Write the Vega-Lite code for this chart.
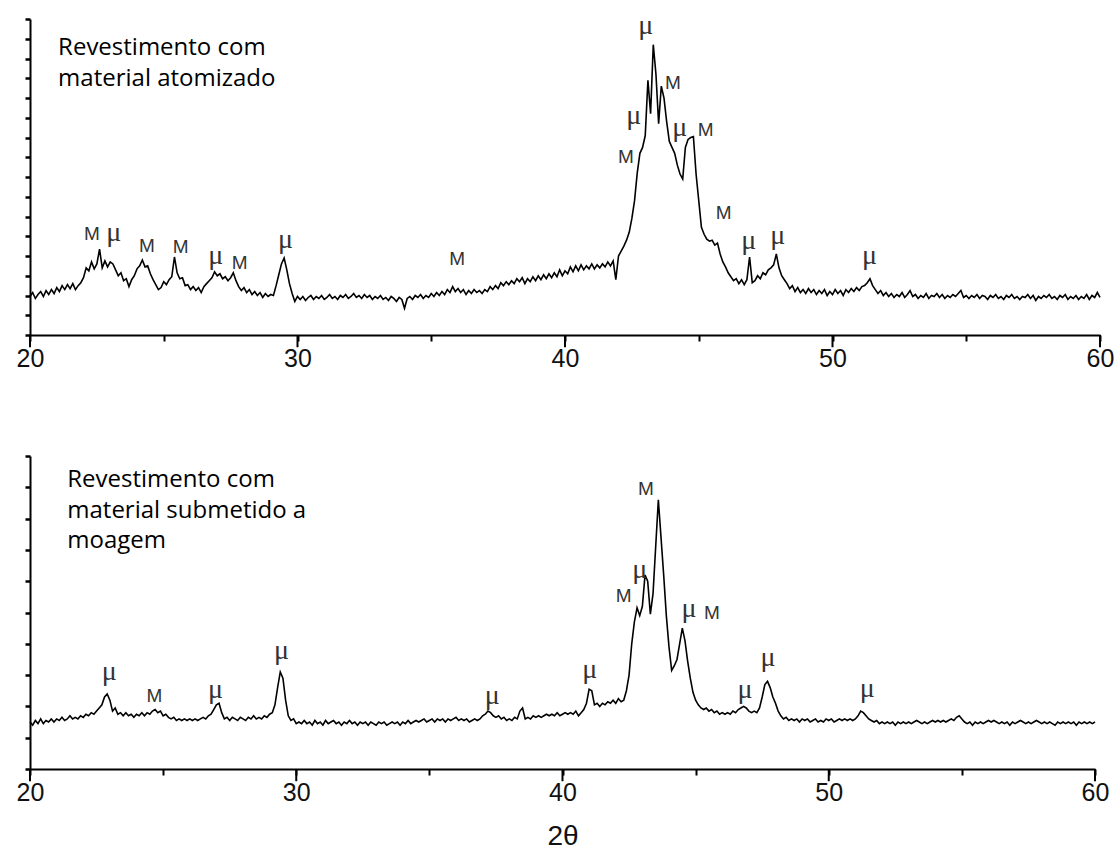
{
  "$schema": "https://vega.github.io/schema/vega-lite/v6.json",
  "background": "white",
  "padding": {"left": 16, "top": 11, "right": 10, "bottom": 5},
  "config": {"view": {"stroke": null}},
  "spacing": 121,
  "bounds": "flush",
  "datasets": {
    "xrd": [
      {"theta":20.0,"atomizado":1.95,"moagem":1.5},{"theta":20.1,"atomizado":2.15,"moagem":1.4},{"theta":20.2,"atomizado":1.85,"moagem":1.55},{"theta":20.3,"atomizado":2.05,"moagem":1.45},{"theta":20.4,"atomizado":2.2,"moagem":1.6},{"theta":20.5,"atomizado":1.95,"moagem":1.45},{"theta":20.6,"atomizado":2.25,"moagem":1.55},{"theta":20.7,"atomizado":2.05,"moagem":1.5},{"theta":20.8,"atomizado":2.3,"moagem":1.6},{"theta":20.9,"atomizado":2.1,"moagem":1.5},
      {"theta":21.0,"atomizado":2.4,"moagem":1.6},{"theta":21.1,"atomizado":2.2,"moagem":1.55},{"theta":21.2,"atomizado":2.5,"moagem":1.65},{"theta":21.3,"atomizado":2.3,"moagem":1.55},{"theta":21.4,"atomizado":2.55,"moagem":1.6},{"theta":21.5,"atomizado":2.35,"moagem":1.7},{"theta":21.6,"atomizado":2.6,"moagem":1.6},{"theta":21.7,"atomizado":2.3,"moagem":1.65},{"theta":21.8,"atomizado":2.5,"moagem":1.6},{"theta":21.9,"atomizado":2.65,"moagem":1.7},
      {"theta":22.0,"atomizado":2.9,"moagem":1.65},{"theta":22.1,"atomizado":3.4,"moagem":1.75},{"theta":22.2,"atomizado":3.25,"moagem":1.7},{"theta":22.3,"atomizado":3.7,"moagem":1.8},{"theta":22.4,"atomizado":3.35,"moagem":1.75},{"theta":22.5,"atomizado":3.6,"moagem":1.85},{"theta":22.6,"atomizado":4.35,"moagem":1.95},{"theta":22.7,"atomizado":3.4,"moagem":2.05},{"theta":22.8,"atomizado":3.75,"moagem":2.3},{"theta":22.9,"atomizado":3.45,"moagem":2.4},
      {"theta":23.0,"atomizado":3.7,"moagem":2.2},{"theta":23.1,"atomizado":3.6,"moagem":1.85},{"theta":23.2,"atomizado":3.3,"moagem":1.95},{"theta":23.3,"atomizado":3.0,"moagem":1.75},{"theta":23.4,"atomizado":3.15,"moagem":1.8},{"theta":23.5,"atomizado":2.75,"moagem":1.7},{"theta":23.6,"atomizado":2.85,"moagem":1.8},{"theta":23.7,"atomizado":2.45,"moagem":1.7},{"theta":23.8,"atomizado":2.8,"moagem":1.75},{"theta":23.9,"atomizado":3.0,"moagem":1.65},
      {"theta":24.0,"atomizado":3.35,"moagem":1.75},{"theta":24.1,"atomizado":3.5,"moagem":1.7},{"theta":24.2,"atomizado":3.8,"moagem":1.8},{"theta":24.3,"atomizado":3.45,"moagem":1.7},{"theta":24.4,"atomizado":3.5,"moagem":1.8},{"theta":24.5,"atomizado":3.1,"moagem":1.75},{"theta":24.6,"atomizado":2.8,"moagem":1.85},{"theta":24.7,"atomizado":2.55,"moagem":1.9},{"theta":24.8,"atomizado":2.3,"moagem":1.8},{"theta":24.9,"atomizado":2.4,"moagem":1.85},
      {"theta":25.0,"atomizado":2.7,"moagem":1.7},{"theta":25.1,"atomizado":2.55,"moagem":1.75},{"theta":25.2,"atomizado":2.8,"moagem":1.65},{"theta":25.3,"atomizado":2.95,"moagem":1.6},{"theta":25.4,"atomizado":3.95,"moagem":1.65},{"theta":25.5,"atomizado":3.15,"moagem":1.55},{"theta":25.6,"atomizado":2.85,"moagem":1.6},{"theta":25.7,"atomizado":2.9,"moagem":1.55},{"theta":25.8,"atomizado":2.5,"moagem":1.6},{"theta":25.9,"atomizado":2.55,"moagem":1.55},
      {"theta":26.0,"atomizado":2.3,"moagem":1.6},{"theta":26.1,"atomizado":2.45,"moagem":1.55},{"theta":26.2,"atomizado":2.25,"moagem":1.6},{"theta":26.3,"atomizado":2.4,"moagem":1.55},{"theta":26.4,"atomizado":2.15,"moagem":1.6},{"theta":26.5,"atomizado":2.45,"moagem":1.65},{"theta":26.6,"atomizado":2.6,"moagem":1.6},{"theta":26.7,"atomizado":2.75,"moagem":1.7},{"theta":26.8,"atomizado":2.9,"moagem":1.75},{"theta":26.9,"atomizado":3.2,"moagem":1.9},
      {"theta":27.0,"atomizado":3.0,"moagem":2.05},{"theta":27.1,"atomizado":3.1,"moagem":2.1},{"theta":27.2,"atomizado":2.85,"moagem":1.8},{"theta":27.3,"atomizado":2.95,"moagem":1.6},{"theta":27.4,"atomizado":2.75,"moagem":1.65},{"theta":27.5,"atomizado":2.9,"moagem":1.55},{"theta":27.6,"atomizado":3.15,"moagem":1.65},{"theta":27.7,"atomizado":2.75,"moagem":1.6},{"theta":27.8,"atomizado":2.45,"moagem":1.55},{"theta":27.9,"atomizado":2.25,"moagem":1.65},
      {"theta":28.0,"atomizado":2.4,"moagem":1.6},{"theta":28.1,"atomizado":2.15,"moagem":1.55},{"theta":28.2,"atomizado":2.3,"moagem":1.65},{"theta":28.3,"atomizado":2.05,"moagem":1.6},{"theta":28.4,"atomizado":2.2,"moagem":1.7},{"theta":28.5,"atomizado":2.0,"moagem":1.6},{"theta":28.6,"atomizado":2.15,"moagem":1.65},{"theta":28.7,"atomizado":1.9,"moagem":1.6},{"theta":28.8,"atomizado":2.1,"moagem":1.7},{"theta":28.9,"atomizado":1.95,"moagem":1.65},
      {"theta":29.0,"atomizado":2.05,"moagem":1.75},{"theta":29.1,"atomizado":2.0,"moagem":1.8},{"theta":29.2,"atomizado":2.5,"moagem":2.05},{"theta":29.3,"atomizado":3.05,"moagem":2.6},{"theta":29.4,"atomizado":3.6,"moagem":3.1},{"theta":29.5,"atomizado":3.9,"moagem":2.9},{"theta":29.6,"atomizado":3.3,"moagem":2.2},{"theta":29.7,"atomizado":2.6,"moagem":1.7},{"theta":29.8,"atomizado":2.1,"moagem":1.55},{"theta":29.9,"atomizado":1.7,"moagem":1.6},
      {"theta":30.0,"atomizado":1.95,"moagem":1.45},{"theta":30.1,"atomizado":1.8,"moagem":1.5},{"theta":30.2,"atomizado":1.95,"moagem":1.45},{"theta":30.3,"atomizado":1.75,"moagem":1.55},{"theta":30.4,"atomizado":1.9,"moagem":1.45},{"theta":30.5,"atomizado":2.0,"moagem":1.5},{"theta":30.6,"atomizado":1.8,"moagem":1.4},{"theta":30.7,"atomizado":1.95,"moagem":1.55},{"theta":30.8,"atomizado":1.85,"moagem":1.45},{"theta":30.9,"atomizado":2.0,"moagem":1.5},
      {"theta":31.0,"atomizado":1.8,"moagem":1.4},{"theta":31.1,"atomizado":1.9,"moagem":1.55},{"theta":31.2,"atomizado":2.05,"moagem":1.45},{"theta":31.3,"atomizado":1.85,"moagem":1.5},{"theta":31.4,"atomizado":1.95,"moagem":1.55},{"theta":31.5,"atomizado":1.8,"moagem":1.45},{"theta":31.6,"atomizado":2.0,"moagem":1.5},{"theta":31.7,"atomizado":1.9,"moagem":1.4},{"theta":31.8,"atomizado":2.05,"moagem":1.5},{"theta":31.9,"atomizado":1.85,"moagem":1.45},
      {"theta":32.0,"atomizado":1.95,"moagem":1.55},{"theta":32.1,"atomizado":2.1,"moagem":1.45},{"theta":32.2,"atomizado":1.9,"moagem":1.5},{"theta":32.3,"atomizado":2.0,"moagem":1.4},{"theta":32.4,"atomizado":1.85,"moagem":1.5},{"theta":32.5,"atomizado":2.05,"moagem":1.45},{"theta":32.6,"atomizado":1.9,"moagem":1.5},{"theta":32.7,"atomizado":2.0,"moagem":1.4},{"theta":32.8,"atomizado":1.8,"moagem":1.5},{"theta":32.9,"atomizado":1.95,"moagem":1.45},
      {"theta":33.0,"atomizado":1.85,"moagem":1.4},{"theta":33.1,"atomizado":2.0,"moagem":1.5},{"theta":33.2,"atomizado":1.8,"moagem":1.45},{"theta":33.3,"atomizado":1.9,"moagem":1.5},{"theta":33.4,"atomizado":1.75,"moagem":1.4},{"theta":33.5,"atomizado":1.95,"moagem":1.45},{"theta":33.6,"atomizado":1.85,"moagem":1.5},{"theta":33.7,"atomizado":1.7,"moagem":1.45},{"theta":33.8,"atomizado":1.9,"moagem":1.5},{"theta":33.9,"atomizado":1.8,"moagem":1.4},
      {"theta":34.0,"atomizado":1.35,"moagem":1.5},{"theta":34.1,"atomizado":1.85,"moagem":1.45},{"theta":34.2,"atomizado":1.95,"moagem":1.55},{"theta":34.3,"atomizado":1.8,"moagem":1.45},{"theta":34.4,"atomizado":2.0,"moagem":1.5},{"theta":34.5,"atomizado":1.9,"moagem":1.55},{"theta":34.6,"atomizado":2.05,"moagem":1.5},{"theta":34.7,"atomizado":1.85,"moagem":1.55},{"theta":34.8,"atomizado":2.0,"moagem":1.6},{"theta":34.9,"atomizado":1.9,"moagem":1.5},
      {"theta":35.0,"atomizado":2.1,"moagem":1.55},{"theta":35.1,"atomizado":1.95,"moagem":1.6},{"theta":35.2,"atomizado":2.15,"moagem":1.5},{"theta":35.3,"atomizado":2.0,"moagem":1.6},{"theta":35.4,"atomizado":2.2,"moagem":1.55},{"theta":35.5,"atomizado":2.05,"moagem":1.6},{"theta":35.6,"atomizado":2.3,"moagem":1.5},{"theta":35.7,"atomizado":2.15,"moagem":1.6},{"theta":35.8,"atomizado":2.45,"moagem":1.55},{"theta":35.9,"atomizado":2.2,"moagem":1.6},
      {"theta":36.0,"atomizado":2.35,"moagem":1.65},{"theta":36.1,"atomizado":2.15,"moagem":1.55},{"theta":36.2,"atomizado":2.3,"moagem":1.6},{"theta":36.3,"atomizado":2.05,"moagem":1.55},{"theta":36.4,"atomizado":2.25,"moagem":1.6},{"theta":36.5,"atomizado":2.1,"moagem":1.5},{"theta":36.6,"atomizado":2.3,"moagem":1.55},{"theta":36.7,"atomizado":2.15,"moagem":1.6},{"theta":36.8,"atomizado":2.25,"moagem":1.55},{"theta":36.9,"atomizado":2.1,"moagem":1.6},
      {"theta":37.0,"atomizado":2.3,"moagem":1.7},{"theta":37.1,"atomizado":2.2,"moagem":1.75},{"theta":37.2,"atomizado":2.45,"moagem":1.85},{"theta":37.3,"atomizado":2.3,"moagem":1.8},{"theta":37.4,"atomizado":2.5,"moagem":1.7},{"theta":37.5,"atomizado":2.35,"moagem":1.65},{"theta":37.6,"atomizado":2.65,"moagem":1.7},{"theta":37.7,"atomizado":2.5,"moagem":1.6},{"theta":37.8,"atomizado":2.7,"moagem":1.65},{"theta":37.9,"atomizado":2.55,"moagem":1.55},
      {"theta":38.0,"atomizado":2.75,"moagem":1.6},{"theta":38.1,"atomizado":2.6,"moagem":1.55},{"theta":38.2,"atomizado":2.85,"moagem":1.65},{"theta":38.3,"atomizado":2.7,"moagem":1.6},{"theta":38.4,"atomizado":2.9,"moagem":1.85},{"theta":38.5,"atomizado":2.6,"moagem":1.95},{"theta":38.6,"atomizado":2.85,"moagem":1.6},{"theta":38.7,"atomizado":2.7,"moagem":1.65},{"theta":38.8,"atomizado":2.95,"moagem":1.6},{"theta":38.9,"atomizado":2.75,"moagem":1.7},
      {"theta":39.0,"atomizado":3.0,"moagem":1.65},{"theta":39.1,"atomizado":2.8,"moagem":1.7},{"theta":39.2,"atomizado":3.05,"moagem":1.65},{"theta":39.3,"atomizado":2.85,"moagem":1.7},{"theta":39.4,"atomizado":3.1,"moagem":1.75},{"theta":39.5,"atomizado":2.9,"moagem":1.7},{"theta":39.6,"atomizado":3.15,"moagem":1.75},{"theta":39.7,"atomizado":2.95,"moagem":1.7},{"theta":39.8,"atomizado":3.3,"moagem":1.8},{"theta":39.9,"atomizado":3.0,"moagem":1.7},
      {"theta":40.0,"atomizado":3.25,"moagem":1.75},{"theta":40.1,"atomizado":3.1,"moagem":1.8},{"theta":40.2,"atomizado":3.45,"moagem":1.75},{"theta":40.3,"atomizado":3.2,"moagem":1.8},{"theta":40.4,"atomizado":3.5,"moagem":1.75},{"theta":40.5,"atomizado":3.25,"moagem":1.85},{"theta":40.6,"atomizado":3.55,"moagem":1.7},{"theta":40.7,"atomizado":3.3,"moagem":1.8},{"theta":40.8,"atomizado":3.5,"moagem":1.9},{"theta":40.9,"atomizado":3.35,"moagem":2.1},
      {"theta":41.0,"atomizado":3.6,"moagem":2.55},{"theta":41.1,"atomizado":3.35,"moagem":2.5},{"theta":41.2,"atomizado":3.55,"moagem":2.05},{"theta":41.3,"atomizado":3.4,"moagem":2.1},{"theta":41.4,"atomizado":3.6,"moagem":2.0},{"theta":41.5,"atomizado":3.45,"moagem":2.1},{"theta":41.6,"atomizado":3.7,"moagem":2.05},{"theta":41.7,"atomizado":3.5,"moagem":2.15},{"theta":41.8,"atomizado":3.75,"moagem":2.1},{"theta":41.9,"atomizado":2.8,"moagem":2.2},
      {"theta":42.0,"atomizado":4.0,"moagem":2.1},{"theta":42.1,"atomizado":4.25,"moagem":2.25},{"theta":42.2,"atomizado":4.5,"moagem":2.15},{"theta":42.3,"atomizado":4.8,"moagem":2.2},{"theta":42.4,"atomizado":5.2,"moagem":2.5},{"theta":42.5,"atomizado":5.9,"moagem":3.0},{"theta":42.6,"atomizado":6.8,"moagem":4.0},{"theta":42.7,"atomizado":8.2,"moagem":4.7},{"theta":42.8,"atomizado":9.2,"moagem":5.15},{"theta":42.9,"atomizado":9.5,"moagem":4.9},
      {"theta":43.0,"atomizado":10.1,"moagem":5.2},{"theta":43.1,"atomizado":12.9,"moagem":6.2},{"theta":43.2,"atomizado":11.2,"moagem":6.0},{"theta":43.3,"atomizado":14.7,"moagem":4.95},{"theta":43.4,"atomizado":13.2,"moagem":5.6},{"theta":43.5,"atomizado":10.7,"moagem":7.1},{"theta":43.6,"atomizado":12.6,"moagem":8.6},{"theta":43.7,"atomizado":12.0,"moagem":7.4},{"theta":43.8,"atomizado":10.8,"moagem":6.2},{"theta":43.9,"atomizado":9.8,"moagem":4.9},
      {"theta":44.0,"atomizado":9.5,"moagem":3.9},{"theta":44.1,"atomizado":9.2,"moagem":3.15},{"theta":44.2,"atomizado":8.6,"moagem":3.3},{"theta":44.3,"atomizado":8.15,"moagem":3.5},{"theta":44.4,"atomizado":7.9,"moagem":4.0},{"theta":44.5,"atomizado":9.5,"moagem":4.5},{"theta":44.6,"atomizado":9.9,"moagem":4.1},{"theta":44.7,"atomizado":10.0,"moagem":3.45},{"theta":44.8,"atomizado":10.05,"moagem":2.9},{"theta":44.9,"atomizado":8.15,"moagem":2.45},
      {"theta":45.0,"atomizado":6.8,"moagem":2.2},{"theta":45.1,"atomizado":5.45,"moagem":2.05},{"theta":45.2,"atomizado":5.1,"moagem":1.95},{"theta":45.3,"atomizado":4.85,"moagem":1.9},{"theta":45.4,"atomizado":4.75,"moagem":1.95},{"theta":45.5,"atomizado":4.8,"moagem":1.85},{"theta":45.6,"atomizado":4.55,"moagem":1.9},{"theta":45.7,"atomizado":4.65,"moagem":1.8},{"theta":45.8,"atomizado":4.1,"moagem":1.85},{"theta":45.9,"atomizado":3.7,"moagem":1.75},
      {"theta":46.0,"atomizado":3.45,"moagem":1.8},{"theta":46.1,"atomizado":3.15,"moagem":1.75},{"theta":46.2,"atomizado":2.95,"moagem":1.8},{"theta":46.3,"atomizado":2.75,"moagem":1.75},{"theta":46.4,"atomizado":2.85,"moagem":1.85},{"theta":46.5,"atomizado":2.6,"moagem":1.8},{"theta":46.6,"atomizado":2.8,"moagem":1.9},{"theta":46.7,"atomizado":2.55,"moagem":1.95},{"theta":46.8,"atomizado":2.8,"moagem":2.0},{"theta":46.9,"atomizado":3.95,"moagem":1.95},
      {"theta":47.0,"atomizado":2.65,"moagem":1.85},{"theta":47.1,"atomizado":2.75,"moagem":1.8},{"theta":47.2,"atomizado":3.0,"moagem":1.85},{"theta":47.3,"atomizado":2.85,"moagem":1.8},{"theta":47.4,"atomizado":3.15,"moagem":1.95},{"theta":47.5,"atomizado":3.05,"moagem":2.3},{"theta":47.6,"atomizado":3.3,"moagem":2.7},{"theta":47.7,"atomizado":3.4,"moagem":2.8},{"theta":47.8,"atomizado":3.55,"moagem":2.6},{"theta":47.9,"atomizado":4.1,"moagem":2.3},
      {"theta":48.0,"atomizado":3.4,"moagem":2.1},{"theta":48.1,"atomizado":3.0,"moagem":1.85},{"theta":48.2,"atomizado":2.8,"moagem":1.7},{"theta":48.3,"atomizado":2.6,"moagem":1.6},{"theta":48.4,"atomizado":2.35,"moagem":1.65},{"theta":48.5,"atomizado":2.5,"moagem":1.55},{"theta":48.6,"atomizado":2.2,"moagem":1.6},{"theta":48.7,"atomizado":2.4,"moagem":1.55},{"theta":48.8,"atomizado":2.15,"moagem":1.6},{"theta":48.9,"atomizado":2.3,"moagem":1.5},
      {"theta":49.0,"atomizado":2.1,"moagem":1.6},{"theta":49.1,"atomizado":2.35,"moagem":1.55},{"theta":49.2,"atomizado":2.15,"moagem":1.6},{"theta":49.3,"atomizado":2.3,"moagem":1.5},{"theta":49.4,"atomizado":2.05,"moagem":1.55},{"theta":49.5,"atomizado":2.25,"moagem":1.6},{"theta":49.6,"atomizado":2.1,"moagem":1.5},{"theta":49.7,"atomizado":2.3,"moagem":1.55},{"theta":49.8,"atomizado":2.0,"moagem":1.5},{"theta":49.9,"atomizado":2.2,"moagem":1.6},
      {"theta":50.0,"atomizado":2.05,"moagem":1.55},{"theta":50.1,"atomizado":2.3,"moagem":1.6},{"theta":50.2,"atomizado":2.1,"moagem":1.5},{"theta":50.3,"atomizado":2.25,"moagem":1.55},{"theta":50.4,"atomizado":2.0,"moagem":1.6},{"theta":50.5,"atomizado":2.3,"moagem":1.55},{"theta":50.6,"atomizado":2.15,"moagem":1.6},{"theta":50.7,"atomizado":2.35,"moagem":1.55},{"theta":50.8,"atomizado":2.2,"moagem":1.6},{"theta":50.9,"atomizado":2.4,"moagem":1.55},
      {"theta":51.0,"atomizado":2.25,"moagem":1.6},{"theta":51.1,"atomizado":2.45,"moagem":1.7},{"theta":51.2,"atomizado":2.5,"moagem":1.85},{"theta":51.3,"atomizado":2.65,"moagem":1.8},{"theta":51.4,"atomizado":2.85,"moagem":1.7},{"theta":51.5,"atomizado":2.5,"moagem":1.6},{"theta":51.6,"atomizado":2.3,"moagem":1.55},{"theta":51.7,"atomizado":2.1,"moagem":1.5},{"theta":51.8,"atomizado":2.25,"moagem":1.55},{"theta":51.9,"atomizado":2.0,"moagem":1.45},
      {"theta":52.0,"atomizado":2.15,"moagem":1.5},{"theta":52.1,"atomizado":1.95,"moagem":1.45},{"theta":52.2,"atomizado":2.1,"moagem":1.5},{"theta":52.3,"atomizado":1.9,"moagem":1.45},{"theta":52.4,"atomizado":2.05,"moagem":1.5},{"theta":52.5,"atomizado":1.95,"moagem":1.4},{"theta":52.6,"atomizado":2.15,"moagem":1.5},{"theta":52.7,"atomizado":1.9,"moagem":1.45},{"theta":52.8,"atomizado":2.05,"moagem":1.5},{"theta":52.9,"atomizado":2.25,"moagem":1.45},
      {"theta":53.0,"atomizado":1.95,"moagem":1.5},{"theta":53.1,"atomizado":2.05,"moagem":1.45},{"theta":53.2,"atomizado":1.85,"moagem":1.5},{"theta":53.3,"atomizado":2.0,"moagem":1.55},{"theta":53.4,"atomizado":1.9,"moagem":1.5},{"theta":53.5,"atomizado":2.1,"moagem":1.45},{"theta":53.6,"atomizado":1.85,"moagem":1.5},{"theta":53.7,"atomizado":2.0,"moagem":1.45},{"theta":53.8,"atomizado":1.95,"moagem":1.5},{"theta":53.9,"atomizado":2.1,"moagem":1.55},
      {"theta":54.0,"atomizado":1.9,"moagem":1.5},{"theta":54.1,"atomizado":2.05,"moagem":1.55},{"theta":54.2,"atomizado":1.85,"moagem":1.5},{"theta":54.3,"atomizado":2.0,"moagem":1.55},{"theta":54.4,"atomizado":1.9,"moagem":1.5},{"theta":54.5,"atomizado":2.05,"moagem":1.55},{"theta":54.6,"atomizado":1.95,"moagem":1.6},{"theta":54.7,"atomizado":2.1,"moagem":1.55},{"theta":54.8,"atomizado":2.25,"moagem":1.65},{"theta":54.9,"atomizado":1.9,"moagem":1.7},
      {"theta":55.0,"atomizado":2.0,"moagem":1.6},{"theta":55.1,"atomizado":1.85,"moagem":1.5},{"theta":55.2,"atomizado":2.0,"moagem":1.45},{"theta":55.3,"atomizado":1.9,"moagem":1.5},{"theta":55.4,"atomizado":2.05,"moagem":1.4},{"theta":55.5,"atomizado":1.85,"moagem":1.5},{"theta":55.6,"atomizado":2.0,"moagem":1.45},{"theta":55.7,"atomizado":1.95,"moagem":1.5},{"theta":55.8,"atomizado":1.8,"moagem":1.45},{"theta":55.9,"atomizado":2.0,"moagem":1.5},
      {"theta":56.0,"atomizado":1.9,"moagem":1.55},{"theta":56.1,"atomizado":2.05,"moagem":1.5},{"theta":56.2,"atomizado":1.85,"moagem":1.55},{"theta":56.3,"atomizado":1.95,"moagem":1.5},{"theta":56.4,"atomizado":1.8,"moagem":1.45},{"theta":56.5,"atomizado":2.0,"moagem":1.5},{"theta":56.6,"atomizado":1.9,"moagem":1.45},{"theta":56.7,"atomizado":2.05,"moagem":1.5},{"theta":56.8,"atomizado":1.85,"moagem":1.4},{"theta":56.9,"atomizado":1.95,"moagem":1.5},
      {"theta":57.0,"atomizado":1.8,"moagem":1.45},{"theta":57.1,"atomizado":1.95,"moagem":1.5},{"theta":57.2,"atomizado":1.9,"moagem":1.55},{"theta":57.3,"atomizado":2.05,"moagem":1.5},{"theta":57.4,"atomizado":1.85,"moagem":1.45},{"theta":57.5,"atomizado":2.0,"moagem":1.5},{"theta":57.6,"atomizado":1.75,"moagem":1.45},{"theta":57.7,"atomizado":1.95,"moagem":1.5},{"theta":57.8,"atomizado":1.85,"moagem":1.55},{"theta":57.9,"atomizado":2.0,"moagem":1.5},
      {"theta":58.0,"atomizado":1.9,"moagem":1.45},{"theta":58.1,"atomizado":2.05,"moagem":1.5},{"theta":58.2,"atomizado":1.85,"moagem":1.45},{"theta":58.3,"atomizado":1.95,"moagem":1.5},{"theta":58.4,"atomizado":1.8,"moagem":1.45},{"theta":58.5,"atomizado":2.0,"moagem":1.4},{"theta":58.6,"atomizado":1.9,"moagem":1.5},{"theta":58.7,"atomizado":2.05,"moagem":1.45},{"theta":58.8,"atomizado":1.8,"moagem":1.5},{"theta":58.9,"atomizado":1.95,"moagem":1.45},
      {"theta":59.0,"atomizado":1.85,"moagem":1.5},{"theta":59.1,"atomizado":2.0,"moagem":1.45},{"theta":59.2,"atomizado":1.8,"moagem":1.5},{"theta":59.3,"atomizado":1.95,"moagem":1.4},{"theta":59.4,"atomizado":1.85,"moagem":1.5},{"theta":59.5,"atomizado":2.05,"moagem":1.45},{"theta":59.6,"atomizado":1.8,"moagem":1.5},{"theta":59.7,"atomizado":2.0,"moagem":1.45},{"theta":59.8,"atomizado":1.9,"moagem":1.5},{"theta":59.9,"atomizado":2.15,"moagem":1.45},
      {"theta":60.0,"atomizado":1.9,"moagem":1.5}
    ],
    "picos_atomizado": [
      {"x":22.31,"y":5.11,"fase":"M"},{"x":23.13,"y":5.16,"fase":"μ"},{"x":24.37,"y":4.51,"fase":"M"},{"x":25.63,"y":4.46,"fase":"M"},{"x":26.94,"y":4.0,"fase":"μ"},{"x":27.84,"y":3.65,"fase":"M"},{"x":29.55,"y":4.81,"fase":"μ"},{"x":35.97,"y":3.85,"fase":"M"},{"x":43.02,"y":15.65,"fase":"μ"},{"x":44.03,"y":12.76,"fase":"M"},{"x":42.57,"y":11.09,"fase":"μ"},{"x":42.28,"y":9.01,"fase":"M"},{"x":44.29,"y":10.48,"fase":"μ"},{"x":45.26,"y":10.38,"fase":"M"},{"x":45.93,"y":6.18,"fase":"M"},{"x":46.87,"y":4.76,"fase":"μ"},{"x":47.95,"y":5.01,"fase":"μ"},{"x":51.38,"y":4.0,"fase":"μ"}
    ],
    "picos_moagem": [
      {"x":22.98,"y":3.1,"fase":"μ"},{"x":24.67,"y":2.33,"fase":"M"},{"x":26.97,"y":2.52,"fase":"μ"},{"x":29.45,"y":3.77,"fase":"μ"},{"x":37.36,"y":2.33,"fase":"μ"},{"x":41.02,"y":3.16,"fase":"μ"},{"x":42.3,"y":5.53,"fase":"M"},{"x":42.9,"y":6.36,"fase":"μ"},{"x":43.13,"y":8.95,"fase":"M"},{"x":44.75,"y":5.11,"fase":"μ"},{"x":45.61,"y":4.98,"fase":"M"},{"x":46.85,"y":2.52,"fase":"μ"},{"x":47.72,"y":3.55,"fase":"μ"},{"x":51.45,"y":2.56,"fase":"μ"}
    ],
    "texto_atomizado": [
      {"x":21.05,"y":14.52,"linha":"Revestimento com"},{"x":21.05,"y":12.95,"linha":"material atomizado"}
    ],
    "texto_moagem": [
      {"x":21.4,"y":9.22,"linha":"Revestimento com"},{"x":21.4,"y":8.23,"linha":"material submetido a"},{"x":21.4,"y":7.27,"linha":"moagem"}
    ],
    "marcas_principais": [
      {"marca":20},{"marca":30},{"marca":40},{"marca":50},{"marca":60}
    ]
  },
  "vconcat": [
    {
      "width": 1070,
      "height": 316,
      "layer": [
        {
          "data": {"name": "xrd"},
          "mark": {"type": "line", "color": "black", "strokeWidth": 1.6, "strokeJoin": "miter"},
          "encoding": {
            "x": {"field": "theta", "type": "quantitative", "title": null,
              "scale": {"domain": [20, 60], "nice": false, "zero": false},
              "axis": {"values": [20,25,30,35,40,45,50,55,60], "grid": false,
                "labelExpr": "datum.value % 10 === 0 ? datum.label : ''",
                "tickSize": 6,
                "tickWidth": 2, "tickColor": "black", "domainWidth": 2, "domainColor": "black",
                "labelFont": "Liberation Sans", "labelFontSize": 25, "labelColor": "#111",
                "labelPadding": 5, "labelFlush": false, "labelOverlap": false}},
            "y": {"field": "atomizado", "type": "quantitative", "title": null,
              "scale": {"domain": [0, 16], "nice": false},
              "axis": {"tickCount": 16, "labels": false, "labelOverlap": false, "grid": false,
                "tickSize": 5, "tickWidth": 2.5, "tickColor": "black", "domainWidth": 2, "domainColor": "black"}}
          }
        },
        {
          "data": {"name": "marcas_principais"},
          "mark": {"type": "rule", "color": "black", "strokeWidth": 2},
          "encoding": {
            "x": {"field": "marca", "type": "quantitative", "title": null},
            "y": {"datum": 0},
            "y2": {"datum": -0.62}
          }
        },
        {
          "data": {"name": "picos_atomizado"},
          "transform": [{"filter": "datum.fase === 'M'"}],
          "mark": {"type": "text", "font": "Liberation Sans", "fontSize": 19, "color": "#333", "baseline": "middle", "align": "center"},
          "encoding": {
            "x": {"field": "x", "type": "quantitative", "title": null},
            "y": {"field": "y", "type": "quantitative", "title": null},
            "text": {"field": "fase"}
          }
        },
        {
          "data": {"name": "picos_atomizado"},
          "transform": [{"filter": "datum.fase !== 'M'"}],
          "mark": {"type": "text", "font": "Liberation Serif", "fontSize": 28, "color": "#333", "baseline": "middle", "align": "center"},
          "encoding": {
            "x": {"field": "x", "type": "quantitative", "title": null},
            "y": {"field": "y", "type": "quantitative", "title": null},
            "text": {"field": "fase"}
          }
        },
        {
          "data": {"name": "texto_atomizado"},
          "mark": {"type": "text", "font": "Open Sans", "fontSize": 24, "color": "black", "baseline": "middle", "align": "left"},
          "encoding": {
            "x": {"field": "x", "type": "quantitative", "title": null},
            "y": {"field": "y", "type": "quantitative", "title": null},
            "text": {"field": "linha"}
          }
        }
      ]
    },
    {
      "width": 1065,
      "height": 313,
      "layer": [
        {
          "data": {"name": "xrd"},
          "mark": {"type": "line", "color": "black", "strokeWidth": 1.6, "strokeJoin": "miter"},
          "encoding": {
            "x": {"field": "theta", "type": "quantitative", "title": "2θ",
              "scale": {"domain": [20, 60], "nice": false, "zero": false},
              "axis": {"values": [20,25,30,35,40,45,50,55,60], "grid": false,
                "labelExpr": "datum.value % 10 === 0 ? datum.label : ''",
                "tickSize": 6,
                "tickWidth": 2, "tickColor": "black", "domainWidth": 2, "domainColor": "black",
                "labelFont": "Liberation Sans", "labelFontSize": 25, "labelColor": "#111",
                "labelPadding": 5, "labelFlush": false, "labelOverlap": false,
                "titleFont": "Liberation Sans", "titleFontSize": 28, "titleFontWeight": "normal", "titleColor": "#111", "titlePadding": 17}},
            "y": {"field": "moagem", "type": "quantitative", "title": null,
              "scale": {"domain": [0, 10], "nice": false},
              "axis": {"tickCount": 10, "labels": false, "labelOverlap": false, "grid": false,
                "tickSize": 5, "tickWidth": 2.5, "tickColor": "black", "domainWidth": 2, "domainColor": "black"}}
          }
        },
        {
          "data": {"name": "marcas_principais"},
          "mark": {"type": "rule", "color": "black", "strokeWidth": 2},
          "encoding": {
            "x": {"field": "marca", "type": "quantitative", "title": "2θ"},
            "y": {"datum": 0},
            "y2": {"datum": -0.39}
          }
        },
        {
          "data": {"name": "picos_moagem"},
          "transform": [{"filter": "datum.fase === 'M'"}],
          "mark": {"type": "text", "font": "Liberation Sans", "fontSize": 19, "color": "#333", "baseline": "middle", "align": "center"},
          "encoding": {
            "x": {"field": "x", "type": "quantitative", "title": "2θ"},
            "y": {"field": "y", "type": "quantitative", "title": null},
            "text": {"field": "fase"}
          }
        },
        {
          "data": {"name": "picos_moagem"},
          "transform": [{"filter": "datum.fase !== 'M'"}],
          "mark": {"type": "text", "font": "Liberation Serif", "fontSize": 28, "color": "#333", "baseline": "middle", "align": "center"},
          "encoding": {
            "x": {"field": "x", "type": "quantitative", "title": "2θ"},
            "y": {"field": "y", "type": "quantitative", "title": null},
            "text": {"field": "fase"}
          }
        },
        {
          "data": {"name": "texto_moagem"},
          "mark": {"type": "text", "font": "Open Sans", "fontSize": 24, "color": "black", "baseline": "middle", "align": "left"},
          "encoding": {
            "x": {"field": "x", "type": "quantitative", "title": "2θ"},
            "y": {"field": "y", "type": "quantitative", "title": null},
            "text": {"field": "linha"}
          }
        }
      ]
    }
  ]
}
